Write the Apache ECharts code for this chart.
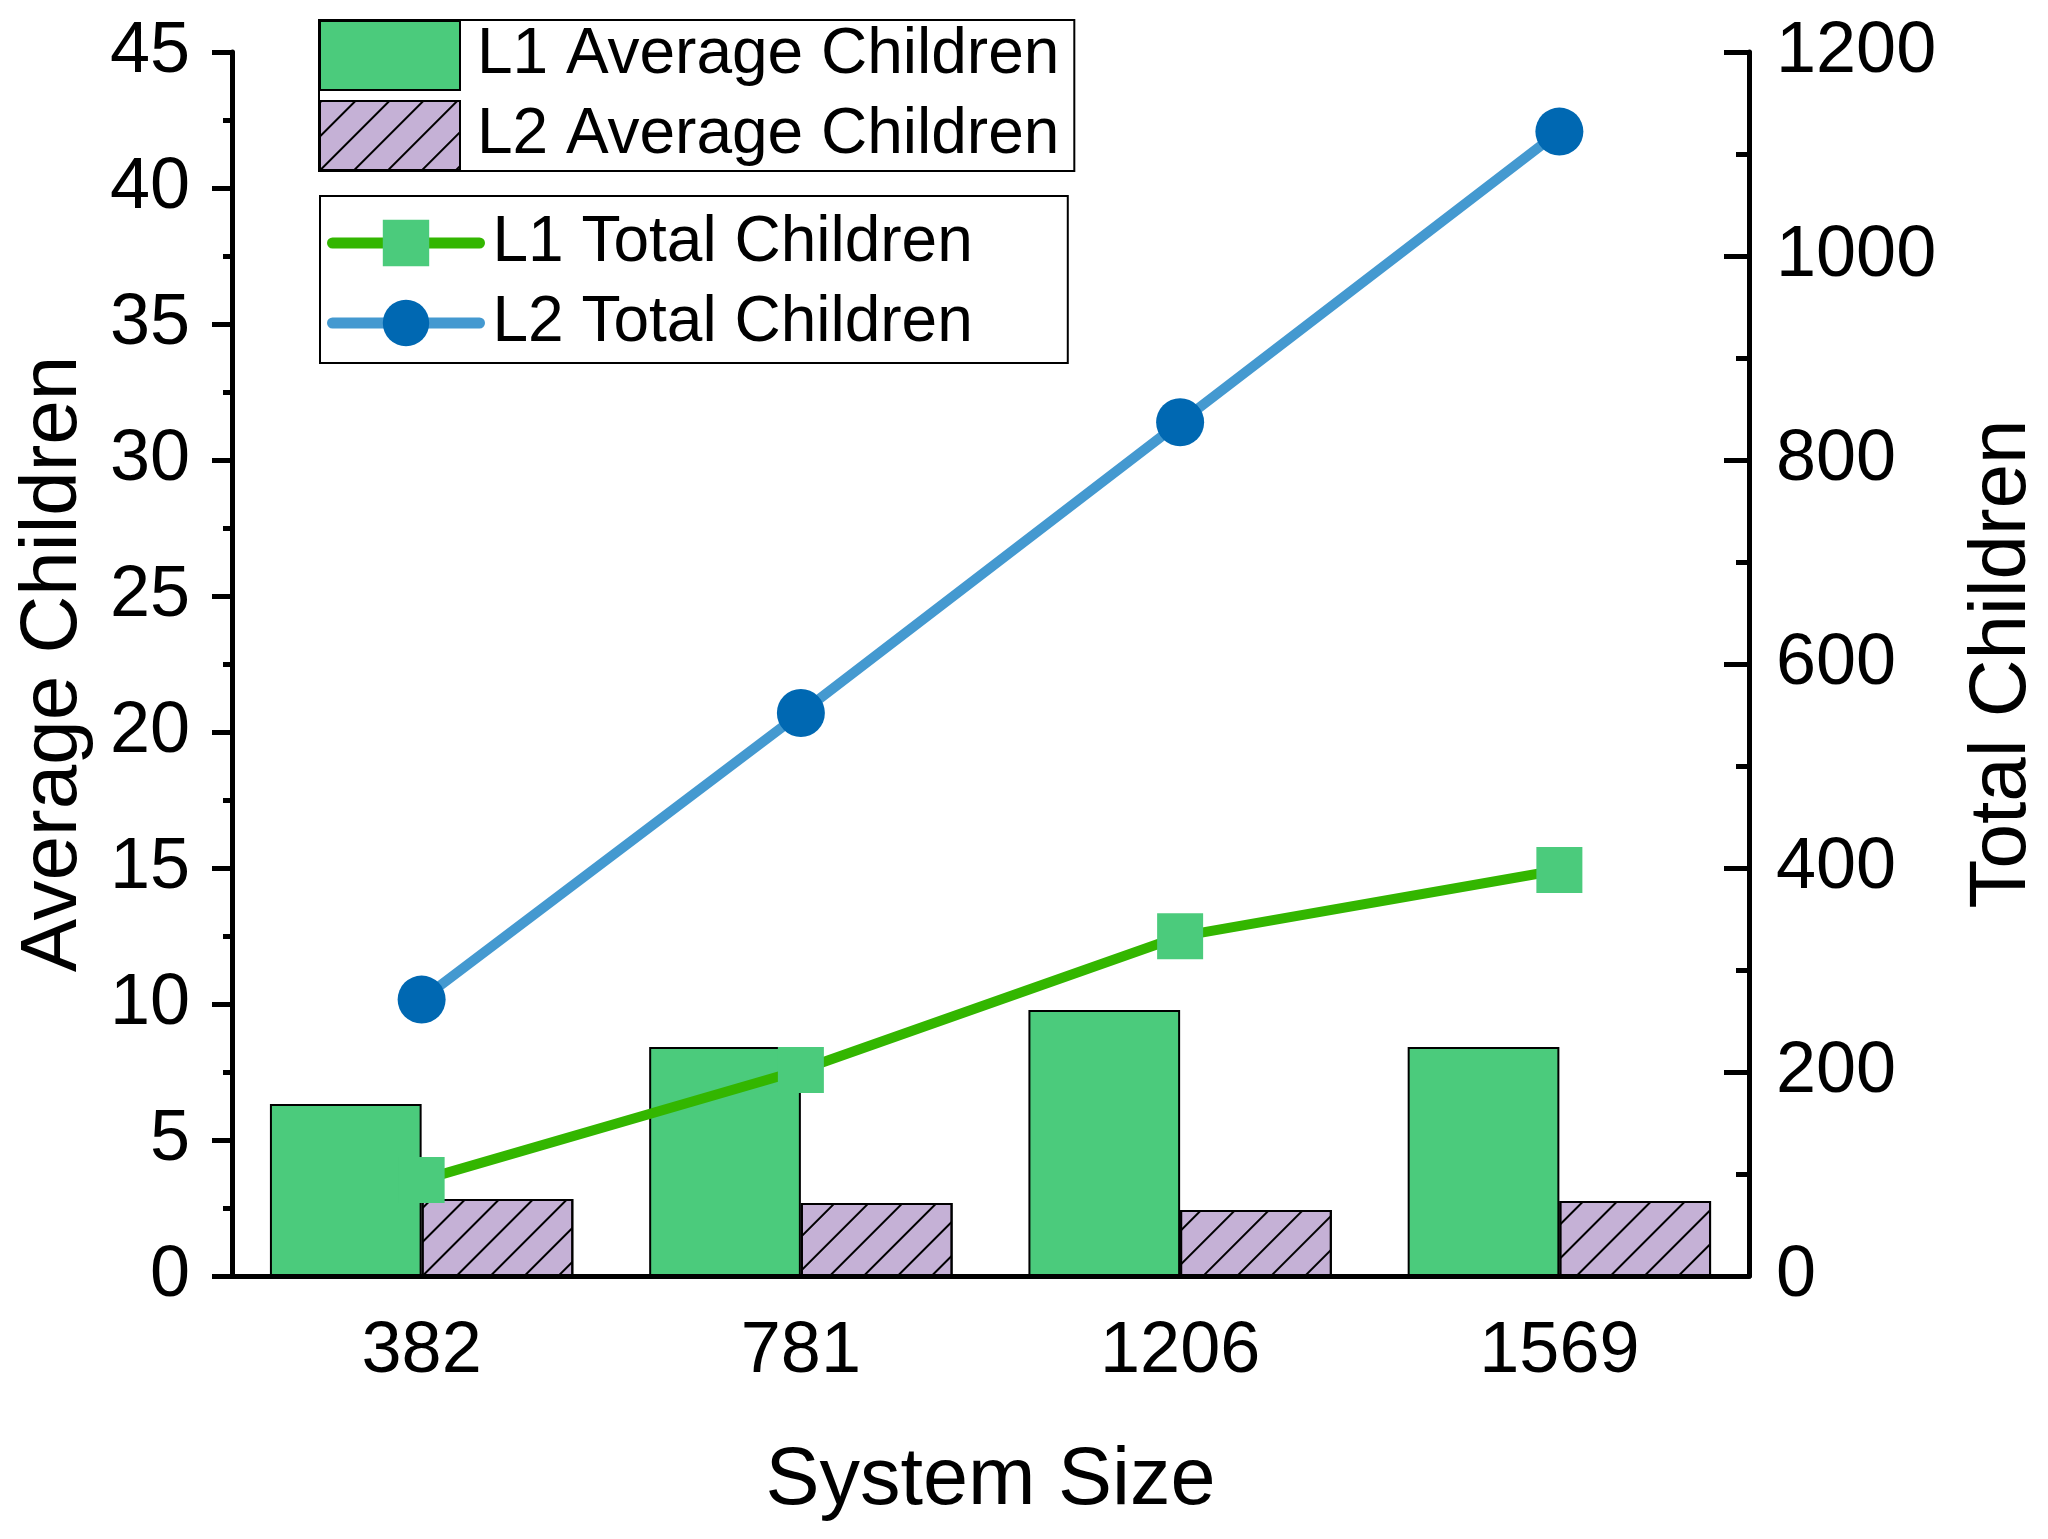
<!DOCTYPE html>
<html>
<head>
<meta charset="UTF-8"/>
<script src="https://cdn.jsdelivr.net/npm/echarts@6/dist/echarts.min.js"></script>
<style type="text/css">
	html, body { margin:0; padding:0; background:#fff; }
	#chart { width:2048px; height:1539px; }
</style>
</head>
<body>
<div id="chart"></div>
<script type="text/javascript">
// data
var categories = ['382', '781', '1206', '1569'];
var l1Avg = [6.32, 8.42, 9.78, 8.42];
var l2Avg = [2.83, 2.68, 2.43, 2.76];
var l1Total = [94, 202, 333, 398];
var l2Total = [271, 552, 837, 1122];

var FONT = '"Liberation Sans", Arial, sans-serif';

var myChart = echarts.init(document.getElementById('chart'));

// thin black "/" hatching on the L2 bars
var hatch = {
	symbol: 'rect',
	symbolSize: 1,
	color: '#000',
	dashArrayX: [1, 0],
	dashArrayY: [2, 22],
	rotation: -Math.PI / 4
};

var option = {
	backgroundColor: '#fff',
	animation: false,
	textStyle: { fontFamily: FONT, color: '#000' },
	grid: { left: 232, right: 299, top: 52, bottom: 263, outerBoundsMode: 'none', containLabel: false },
	legend: [
		{
			orient: 'vertical',
			left: 319, top: 20,
			padding: [0, 15, 0, 0],
			itemWidth: 140, itemHeight: 69, itemGap: 9,
			borderColor: '#000', borderWidth: 2,
			icon: 'rect',
			textStyle: { fontSize: 64, color: '#000', fontFamily: FONT, padding: [0, 0, 0, 12] },
			data: ['L1 Average Children', 'L2 Average Children']
		},
		{
			orient: 'vertical',
			left: 320, top: 196,
			padding: [15, 95, 8, 7],
			itemWidth: 147, itemHeight: 58, itemGap: 16,
			borderColor: '#000', borderWidth: 2,
			textStyle: { fontSize: 64, color: '#000', fontFamily: FONT, padding: [0, 0, 0, 8] },
			data: [
				{ name: 'L1 Total Children', lineStyle: { width: 11, cap: 'round', color: '#33B600' } },
				{ name: 'L2 Total Children', lineStyle: { width: 11, cap: 'round', color: '#4499D0' } }
			]
		}
	],
	xAxis: [
		{
			type: 'category',
			position: 'bottom',
			data: categories,
			name: 'System Size',
			nameLocation: 'middle',
			nameGap: 165,
			nameTextStyle: { fontSize: 81, color: '#000', fontFamily: FONT },
			axisLine: { lineStyle: { color: '#000', width: 5 } },
			axisTick: { alignWithLabel: true, length: 25, lineStyle: { color: '#000', width: 5 } },
			axisLabel: { fontSize: 72, color: '#000', margin: 40, fontFamily: FONT }
		},
		{
			// short ticks on category boundaries
			type: 'category',
			position: 'bottom',
			data: categories,
			axisLine: { show: false },
			axisTick: { length: 12, lineStyle: { color: '#000', width: 5 } },
			axisLabel: { show: false }
		}
	],
	yAxis: [
		{
			type: 'value',
			position: 'left',
			min: 0, max: 45, interval: 5,
			name: 'Average Children',
			nameLocation: 'middle',
			nameGap: 138,
			nameTextStyle: { fontSize: 80, color: '#000', fontFamily: FONT },
			axisLine: { show: true, lineStyle: { color: '#000', width: 5 } },
			axisTick: { show: true, length: 20, lineStyle: { color: '#000', width: 5 } },
			minorTick: { show: true, splitNumber: 2, length: 9, lineStyle: { color: '#000', width: 5 } },
			splitLine: { show: false },
			axisLabel: { fontSize: 72, color: '#000', margin: 42, fontFamily: FONT }
		},
		{
			type: 'value',
			position: 'right',
			min: 0, max: 1200, interval: 200,
			name: 'Total Children',
			nameLocation: 'middle',
			nameGap: 214,
			nameRotate: 90,
			nameTextStyle: { fontSize: 80, color: '#000', fontFamily: FONT },
			axisLine: { show: true, lineStyle: { color: '#000', width: 5 } },
			axisTick: { show: true, inside: true, length: 25, lineStyle: { color: '#000', width: 5 } },
			minorTick: { show: true, splitNumber: 2, length: 13, lineStyle: { color: '#000', width: 5 } },
			splitLine: { show: false },
			axisLabel: {
				fontSize: 72, color: '#000', margin: 27, fontFamily: FONT,
				formatter: function (v) { return String(v); }
			}
		}
	],
	series: [
		{
			name: 'L1 Average Children',
			type: 'bar',
			xAxisIndex: 0, yAxisIndex: 0,
			barWidth: '40%',
			barGap: '0%',
			itemStyle: { color: '#4BCB7C', borderColor: '#000', borderWidth: 2 },
			data: l1Avg
		},
		{
			name: 'L2 Average Children',
			type: 'bar',
			xAxisIndex: 0, yAxisIndex: 0,
			barWidth: '40%',
			barGap: '0%',
			itemStyle: { color: '#C5B1D6', borderColor: '#000', borderWidth: 2, decal: hatch },
			data: l2Avg
		},
		{
			name: 'L1 Total Children',
			type: 'line',
			xAxisIndex: 0, yAxisIndex: 1,
			symbol: 'rect',
			symbolSize: 46,
			lineStyle: { color: '#33B600', width: 10 },
			itemStyle: { color: '#4BCB7C' },
			data: l1Total
		},
		{
			name: 'L2 Total Children',
			type: 'line',
			xAxisIndex: 0, yAxisIndex: 1,
			symbol: 'circle',
			symbolSize: 48,
			lineStyle: { color: '#4499D0', width: 10 },
			itemStyle: { color: '#0068B2' },
			data: l2Total
		}
	]
};

myChart.setOption(option);
</script>
</body>
</html>
